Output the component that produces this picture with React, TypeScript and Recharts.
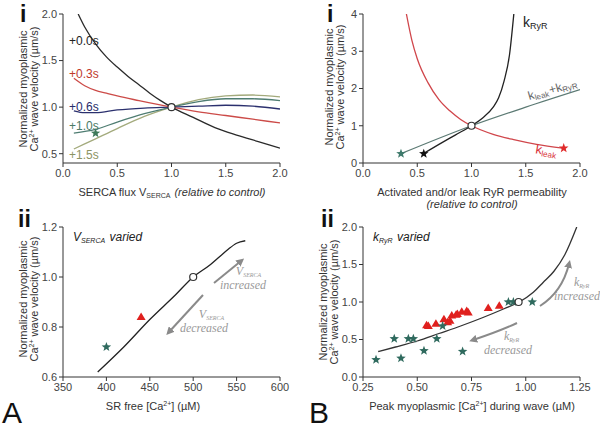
import React from 'react';
import { ComposedChart, Line, Scatter, XAxis, YAxis } from 'recharts';

type Pt = { x: number; y: number };

// A(i) velocity vs SERCA flux, one curve per time after onset
const serca00: Pt[] = [
  { x: 0.14, y: 2.0 }, { x: 0.2, y: 1.86 }, { x: 0.3, y: 1.68 }, { x: 0.4, y: 1.54 },
  { x: 0.5, y: 1.43 }, { x: 0.6, y: 1.33 }, { x: 0.7, y: 1.24 }, { x: 0.8, y: 1.15 },
  { x: 0.9, y: 1.07 }, { x: 1.0, y: 1.0 }, { x: 1.2, y: 0.89 }, { x: 1.4, y: 0.78 },
  { x: 1.6, y: 0.7 }, { x: 1.8, y: 0.63 }, { x: 2.0, y: 0.56 },
];
const serca03: Pt[] = [
  { x: 0.1, y: 1.31 }, { x: 0.2, y: 1.23 }, { x: 0.3, y: 1.18 }, { x: 0.4, y: 1.15 },
  { x: 0.5, y: 1.12 }, { x: 0.7, y: 1.07 }, { x: 1.0, y: 1.0 }, { x: 1.25, y: 0.95 },
  { x: 1.5, y: 0.91 }, { x: 1.75, y: 0.87 }, { x: 2.0, y: 0.83 },
];
const serca06: Pt[] = [
  { x: 0.1, y: 0.96 }, { x: 0.2, y: 0.94 }, { x: 0.3, y: 0.94 }, { x: 0.5, y: 0.97 },
  { x: 0.75, y: 0.99 }, { x: 1.0, y: 1.0 }, { x: 1.25, y: 1.01 }, { x: 1.5, y: 1.02 },
  { x: 1.75, y: 1.01 }, { x: 2.0, y: 0.98 },
];
const serca10: Pt[] = [
  { x: 0.1, y: 0.72 }, { x: 0.3, y: 0.76 }, { x: 0.5, y: 0.84 }, { x: 0.75, y: 0.93 },
  { x: 1.0, y: 1.0 }, { x: 1.25, y: 1.06 }, { x: 1.5, y: 1.09 }, { x: 1.75, y: 1.09 },
  { x: 2.0, y: 1.07 },
];
const serca15: Pt[] = [
  { x: 0.1, y: 0.55 }, { x: 0.3, y: 0.66 }, { x: 0.5, y: 0.77 }, { x: 0.75, y: 0.9 },
  { x: 1.0, y: 1.0 }, { x: 1.25, y: 1.08 }, { x: 1.5, y: 1.12 }, { x: 1.75, y: 1.13 },
  { x: 2.0, y: 1.11 },
];
const sercaStar: Pt[] = [{ x: 0.3, y: 0.72 }];
const control: Pt[] = [{ x: 1.0, y: 1.0 }];

// B(i) velocity vs RyR permeability
const kRyR: Pt[] = [
  { x: 0.56, y: 0.26 }, { x: 0.7, y: 0.5 }, { x: 0.85, y: 0.75 }, { x: 1.0, y: 1.0 },
  { x: 1.1, y: 1.2 }, { x: 1.2, y: 1.5 }, { x: 1.25, y: 1.75 }, { x: 1.3, y: 2.2 },
  { x: 1.35, y: 2.9 }, { x: 1.39, y: 4.0 },
];
const kLeak: Pt[] = [
  { x: 0.4, y: 4.0 }, { x: 0.45, y: 3.3 }, { x: 0.5, y: 2.8 }, { x: 0.6, y: 2.15 },
  { x: 0.7, y: 1.7 }, { x: 0.8, y: 1.4 }, { x: 0.9, y: 1.17 }, { x: 1.0, y: 1.0 },
  { x: 1.2, y: 0.77 }, { x: 1.4, y: 0.62 }, { x: 1.6, y: 0.5 }, { x: 1.84, y: 0.4 },
];
const kBoth: Pt[] = [
  { x: 0.35, y: 0.25 }, { x: 1.0, y: 1.0 }, { x: 1.5, y: 1.5 }, { x: 2.0, y: 1.97 },
];
const bothStar: Pt[] = [{ x: 0.35, y: 0.25 }];
const ryrStar: Pt[] = [{ x: 0.56, y: 0.25 }];
const leakStar: Pt[] = [{ x: 1.85, y: 0.4 }];

// A(ii) velocity vs SR free Ca
const srCurve: Pt[] = [
  { x: 390, y: 0.62 }, { x: 420, y: 0.72 }, { x: 450, y: 0.83 }, { x: 480, y: 0.93 },
  { x: 500, y: 1.0 }, { x: 520, y: 1.05 }, { x: 530, y: 1.08 }, { x: 540, y: 1.11 },
  { x: 550, y: 1.135 }, { x: 560, y: 1.145 },
];
const srTriangle: Pt[] = [{ x: 440, y: 0.84 }];
const srStar: Pt[] = [{ x: 400, y: 0.72 }];
const srControl: Pt[] = [{ x: 500, y: 1.0 }];

// B(ii) velocity vs peak myoplasmic Ca
const peakCurve: Pt[] = [
  { x: 0.32, y: 0.34 }, { x: 0.4, y: 0.4 }, { x: 0.5, y: 0.48 }, { x: 0.6, y: 0.58 },
  { x: 0.7, y: 0.68 }, { x: 0.8, y: 0.79 }, { x: 0.9, y: 0.91 }, { x: 0.97, y: 1.0 },
  { x: 1.035, y: 1.13 }, { x: 1.08, y: 1.26 }, { x: 1.13, y: 1.41 }, { x: 1.18, y: 1.63 },
  { x: 1.235, y: 2.0 },
];
const peakTriangles: Pt[] = [
  { x: 0.543, y: 0.69 }, { x: 0.551, y: 0.68 }, { x: 0.586, y: 0.71 }, { x: 0.623, y: 0.77 },
  { x: 0.64, y: 0.73 }, { x: 0.651, y: 0.75 }, { x: 0.659, y: 0.82 }, { x: 0.679, y: 0.83 },
  { x: 0.685, y: 0.84 }, { x: 0.705, y: 0.87 }, { x: 0.728, y: 0.88 }, { x: 0.735, y: 0.86 },
  { x: 0.827, y: 0.92 }, { x: 0.878, y: 0.95 },
];
const peakStars: Pt[] = [
  { x: 0.31, y: 0.23 }, { x: 0.425, y: 0.25 }, { x: 0.531, y: 0.35 }, { x: 0.709, y: 0.34 },
  { x: 0.394, y: 0.51 }, { x: 0.459, y: 0.51 }, { x: 0.482, y: 0.51 }, { x: 0.59, y: 0.51 },
  { x: 0.617, y: 0.68 }, { x: 0.92, y: 1.0 }, { x: 0.943, y: 1.0 }, { x: 1.03, y: 1.0 },
];
const peakControl: Pt[] = [{ x: 0.967, y: 1.0 }];

const FONT = 'Arial, "Liberation Sans", sans-serif';
const SERIF = '"Liberation Serif", "Times New Roman", serif';
const AX = '#333';

const starShape = (color: string, r = 5) => (p: any) => {
  const pts: string[] = [];
  for (let i = 0; i < 10; i++) {
    const rr = i % 2 === 0 ? r : r * 0.42;
    const a = -Math.PI / 2 + (i * Math.PI) / 5;
    pts.push(`${p.cx + rr * Math.cos(a)},${p.cy + rr * Math.sin(a)}`);
  }
  return <polygon points={pts.join(' ')} fill={color} />;
};

const triShape = (color: string) => (p: any) => (
  <polygon
    points={`${p.cx},${p.cy - 4.5} ${p.cx + 4.5},${p.cy + 3} ${p.cx - 4.5},${p.cy + 3}`}
    fill={color}
  />
);

const ringShape = (p: any) => (
  <circle cx={p.cx} cy={p.cy} r={3.5} fill="#fff" stroke="#333" strokeWidth={1.2} />
);

const curve = (data: Pt[], color: string) => (
  <Line
    data={data}
    dataKey="y"
    type="monotone"
    stroke={color}
    strokeWidth={1.3}
    dot={false}
    isAnimationActive={false}
  />
);

const marks = (data: Pt[], shape: any) => (
  <Scatter data={data} dataKey="y" shape={shape} isAnimationActive={false} />
);

interface PanelProps {
  left: number;
  top: number;
  bottomRow?: boolean;
  xDomain: [number, number];
  xTicks: number[];
  xDigits: number;
  yDomain: [number, number];
  yTicks: number[];
  yDigits: number;
  children: React.ReactNode;
}

const Panel = ({ left, top, bottomRow, xDomain, xTicks, xDigits, yDomain, yTicks, yDigits, children }: PanelProps) => (
  <div style={{ position: 'absolute', left, top }}>
    <ComposedChart
      width={300}
      height={bottomRow ? 218 : 210}
      margin={{ top: bottomRow ? 17 : 14, right: 20, bottom: bottomRow ? 21 : 17, left: 33 }}
    >
      <XAxis
        dataKey="x"
        type="number"
        domain={xDomain}
        ticks={xTicks}
        allowDataOverflow
        height={30}
        tickSize={4}
        stroke={AX}
        tick={{ fill: '#444', fontSize: 11, fontFamily: FONT }}
        tickFormatter={(v: number) => v.toFixed(xDigits)}
      />
      <YAxis
        dataKey="y"
        type="number"
        domain={yDomain}
        ticks={yTicks}
        allowDataOverflow
        width={30}
        tickSize={4}
        stroke={AX}
        tick={{ fill: '#444', fontSize: 11, fontFamily: FONT }}
        tickFormatter={(v: number) => v.toFixed(yDigits)}
      />
      {children}
    </ComposedChart>
  </div>
);

// two-line rotated axis title; (bx, cy) = baseline x of first line, vertical centre
const YLabel = ({ bx, cy }: { bx: number; cy: number }) => (
  <g transform={`translate(${bx} ${cy}) rotate(-90)`} fontFamily={FONT} fontSize={11} fill="#333" textAnchor="middle">
    <text x={0} y={0}>Normalized myoplasmic</text>
    <text x={0} y={11}>
      Ca<tspan fontSize={7} dy={-4}>2+</tspan>
      <tspan dy={4}> wave velocity (µm/s)</tspan>
    </text>
  </g>
);

const Sub = ({ children, size = 7 }: { children: React.ReactNode; size?: number }) => (
  <>
    <tspan fontSize={size} dy={2}>{children}</tspan>
    <tspan dy={-2}>{'\u200a'}</tspan>
  </>
);

const Overlay = () => (
  <svg width={600} height={428} style={{ position: 'absolute', left: 0, top: 0, pointerEvents: 'none' }}>
    <defs>
      <marker id="ah" viewBox="0 0 10 10" refX="5" refY="5" markerWidth="4" markerHeight="4" orient="auto">
        <path d="M0,0 L10,5 L0,10 z" fill="#8a8a8a" />
      </marker>
    </defs>
    {/* panel labels */}
    <g fontFamily={FONT} fill="#111">
      <text x={20} y={22} fontSize={23} fontWeight="bold">i</text>
      <text x={327} y={22} fontSize={23} fontWeight="bold">i</text>
      <text x={18} y={227} fontSize={23} fontWeight="bold">ii</text>
      <text x={321} y={227} fontSize={23} fontWeight="bold">ii</text>
      <text x={2} y={423} fontSize={30}>A</text>
      <text x={309} y={423} fontSize={30}>B</text>
    </g>
    <YLabel bx={27} cy={89} />
    <YLabel bx={27} cy={299} />
    <YLabel bx={333} cy={87} />
    <YLabel bx={327} cy={302} />

    {/* A(i) */}
    <g fontFamily={FONT} fontSize={12}>
      <text x={69} y={45} fill="#222">+0.0s</text>
      <text x={69} y={78} fill="#c0392b">+0.3s</text>
      <text x={69} y={111} fill="#272c6b">+0.6s</text>
      <text x={69} y={130} fill="#4c7a66">+1.0s</text>
      <text x={69} y={159} fill="#8c9464">+1.5s</text>
    </g>
    <text x={172} y={196} fontFamily={FONT} fontSize={11} fill="#333" textAnchor="middle">
      SERCA flux V<Sub>SERCA</Sub> <tspan fontStyle="italic">(relative to control)</tspan>
    </text>

    {/* B(i) */}
    <text x={523} y={27} fontFamily={FONT} fontSize={14} fill="#222">
      k<Sub size={9}>RyR</Sub>
    </text>
    <text x={554} y={93} fontFamily={FONT} fontSize={12} fill="#666" textAnchor="middle" transform="rotate(-16 554 93)">
      k<Sub size={8}>leak</Sub>+k<Sub size={8}>RyR</Sub>
    </text>
    <text x={546} y={155} fontFamily={FONT} fontSize={13} fill="#d8323a" textAnchor="middle" transform="rotate(9 546 155)">
      k<Sub size={8}>leak</Sub>
    </text>
    <text x={472} y={196} fontFamily={FONT} fontSize={11} fill="#333" textAnchor="middle">
      Activated and/or leak RyR permeability
    </text>
    <text x={472} y={208} fontFamily={FONT} fontSize={11} fill="#333" textAnchor="middle" fontStyle="italic">
      (relative to control)
    </text>

    {/* A(ii) */}
    <text x={73} y={241} fontFamily={FONT} fontSize={12} fill="#222" fontStyle="italic">
      V<Sub>SERCA</Sub> varied
    </text>
    <line x1={214} y1={283} x2={241} y2={261} stroke="#8a8a8a" strokeWidth={2} markerEnd="url(#ah)" />
    <line x1={203} y1={295} x2={169} y2={332} stroke="#8a8a8a" strokeWidth={2} markerEnd="url(#ah)" />
    <g fontFamily={SERIF} fontStyle="italic" fill="#9a9a9a" fontSize={12} textAnchor="middle">
      <text x={249} y={275}>V<Sub size={6}>SERCA</Sub></text>
      <text x={243} y={289}>increased</text>
      <text x={212} y={318}>V<Sub size={6}>SERCA</Sub></text>
      <text x={204} y={332}>decreased</text>
    </g>
    <text x={153} y={410} fontFamily={FONT} fontSize={11} fill="#333" textAnchor="middle">
      SR free [Ca<tspan fontSize={7} dy={-4}>2+</tspan><tspan dy={4}>] (µM)</tspan>
    </text>

    {/* B(ii) */}
    <text x={373} y={241} fontFamily={FONT} fontSize={12} fill="#222" fontStyle="italic">
      k<Sub>RyR</Sub> varied
    </text>
    <path d="M540,306 Q562,292 569,264" fill="none" stroke="#8a8a8a" strokeWidth={2} markerEnd="url(#ah)" />
    <path d="M517,323 Q500,331 473,340" fill="none" stroke="#8a8a8a" strokeWidth={2} markerEnd="url(#ah)" />
    <g fontFamily={SERIF} fontStyle="italic" fill="#9a9a9a" fontSize={12} textAnchor="middle">
      <text x={582} y={286}>k<Sub size={6}>RyR</Sub></text>
      <text x={577} y={300}>increased</text>
      <text x={512} y={340}>k<Sub size={6}>RyR</Sub></text>
      <text x={508} y={354}>decreased</text>
    </g>
    <text x={472} y={410} fontFamily={FONT} fontSize={11} fill="#333" textAnchor="middle">
      Peak myoplasmic [Ca<tspan fontSize={7} dy={-4}>2+</tspan><tspan dy={4}>] during wave (µM)</tspan>
    </text>
  </svg>
);

export default function App() {
  return (
    <div style={{ position: 'absolute', left: 0, top: 0, width: 600, height: 428, background: '#fff', overflow: 'hidden' }}>
      <Panel left={0} top={0} xDomain={[0, 2]} xTicks={[0, 0.5, 1, 1.5, 2]} xDigits={1}
        yDomain={[0.4, 2]} yTicks={[0.5, 1, 1.5, 2]} yDigits={1}>
        {curve(serca15, '#a3aa7c')}
        {curve(serca10, '#4f7d72')}
        {curve(serca06, '#2b306e')}
        {curve(serca03, '#cc4b48')}
        {curve(serca00, '#2a2a2a')}
        {marks(sercaStar, starShape('#3f7a5a'))}
        {marks(control, ringShape)}
      </Panel>
      <Panel left={300} top={0} xDomain={[0, 2]} xTicks={[0, 0.5, 1, 1.5, 2]} xDigits={1}
        yDomain={[0, 4]} yTicks={[0, 1, 2, 3, 4]} yDigits={0}>
        {curve(kBoth, '#5c7a74')}
        {curve(kLeak, '#d0464b')}
        {curve(kRyR, '#222')}
        {marks(bothStar, starShape('#3f7a6c'))}
        {marks(ryrStar, starShape('#111'))}
        {marks(leakStar, starShape('#e02a2a'))}
        {marks(control, ringShape)}
      </Panel>
      <Panel left={0} top={210} bottomRow xDomain={[350, 600]} xTicks={[350, 400, 450, 500, 550, 600]} xDigits={0}
        yDomain={[0.6, 1.2]} yTicks={[0.6, 0.8, 1.0, 1.2]} yDigits={1}>
        {curve(srCurve, '#222')}
        {marks(srTriangle, triShape('#e0201e'))}
        {marks(srStar, starShape('#2f6a5e'))}
        {marks(srControl, ringShape)}
      </Panel>
      <Panel left={300} top={210} bottomRow xDomain={[0.25, 1.25]} xTicks={[0.25, 0.5, 0.75, 1, 1.25]} xDigits={2}
        yDomain={[0, 2]} yTicks={[0, 0.5, 1, 1.5, 2]} yDigits={1}>
        {curve(peakCurve, '#333')}
        {marks(peakTriangles, triShape('#e0201e'))}
        {marks(peakStars, starShape('#2f6a5e'))}
        {marks(peakControl, ringShape)}
      </Panel>
      <Overlay />
    </div>
  );
}
